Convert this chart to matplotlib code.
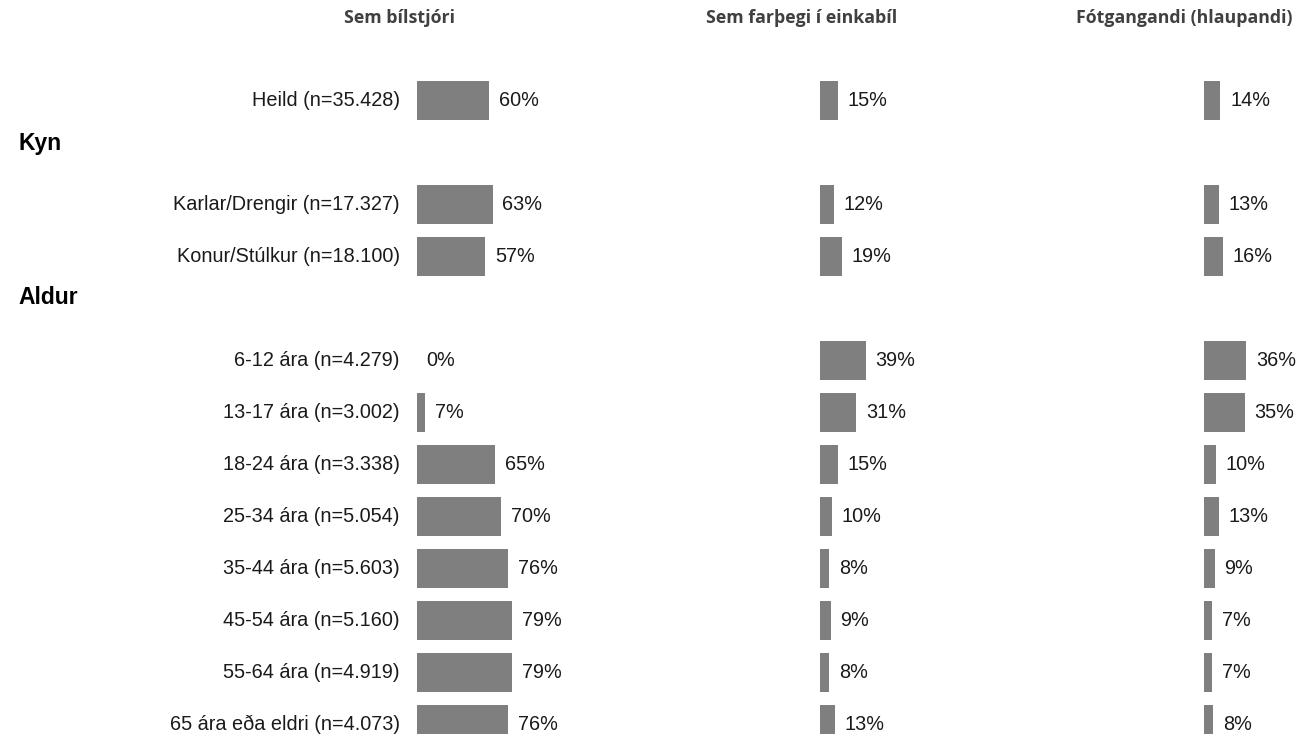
import matplotlib
matplotlib.use("Agg")
import matplotlib.pyplot as plt

# row labels and the row slot each one sits in (gaps are for the group headings)
labels = ["Heild (n=35.428)",
          "Karlar/Drengir (n=17.327)", "Konur/Stúlkur (n=18.100)",
          "6-12 ára (n=4.279)", "13-17 ára (n=3.002)", "18-24 ára (n=3.338)",
          "25-34 ára (n=5.054)", "35-44 ára (n=5.603)", "45-54 ára (n=5.160)",
          "55-64 ára (n=4.919)", "65 ára eða eldri (n=4.073)"]
rows = [0, 2, 3, 5, 6, 7, 8, 9, 10, 11, 12]

groups = ["Kyn", "Aldur"]
group_rows = [0.83, 3.8]

columns = ["Sem bílstjóri", "Sem farþegi í einkabíl", "Fótgangandi (hlaupandi)"]
driver = [60, 63, 57, 0, 7, 65, 70, 76, 79, 79, 76]
passenger = [15, 12, 19, 39, 31, 15, 10, 8, 9, 8, 13]
walking = [14, 13, 16, 36, 35, 10, 13, 9, 7, 7, 8]

W, H = 1299, 739
fig = plt.figure(figsize=(W / 100, H / 100), dpi=100)

bar_color = "#7f7f7f"
txt_color = "#1a1a1a"
px_per_pct = [1.2, 1.17, 1.17]
col_left = [417, 820, 1204]
# header anchor x (px) and alignment; the last one is pushed against the right edge
header_x = [400, 802, 1293]
header_ha = ["center", "center", "right"]

top_px, bot_px = 74, 734.4
ylim = (12.2, -0.5)

for i, (vals, name) in enumerate(zip([driver, passenger, walking], columns)):
    w_px = 100 * px_per_pct[i]
    ax = fig.add_axes([col_left[i] / W, (H - bot_px) / H, w_px / W, (bot_px - top_px) / H])
    ax.barh(rows, vals, height=0.75, color=bar_color)
    ax.set_xlim(0, 100)
    ax.set_ylim(*ylim)
    ax.axis("off")
    for r, v in zip(rows, vals):
        ax.annotate(f"{v}%", (v, r), xytext=(7, 0), textcoords="offset points",
                    ha="left", va="center", fontsize=14.3, color=txt_color,
                    family="Liberation Sans", annotation_clip=False)
    if i == 0:
        for r, lab in zip(rows, labels):
            ax.annotate(lab, (0, r), xytext=(-12.5, 0), textcoords="offset points",
                        ha="right", va="center", fontsize=14.3, color=txt_color,
                        family="Liberation Sans", annotation_clip=False)
        for r, g in zip(group_rows, groups):
            ax.annotate(g, (0, r), xytext=(18, 0), textcoords=("figure pixels", "offset points"),
                        ha="left", va="center", fontsize=16.5, fontweight="bold",
                        color="black", family="Liberation Sans", annotation_clip=False)
    fig.text(header_x[i] / W, 1 - 18 / H, name, ha=header_ha[i], va="center",
             fontsize=12.8, fontweight="bold", color="#404040", family="Open Sans")

fig.savefig("out.png", dpi=100)
